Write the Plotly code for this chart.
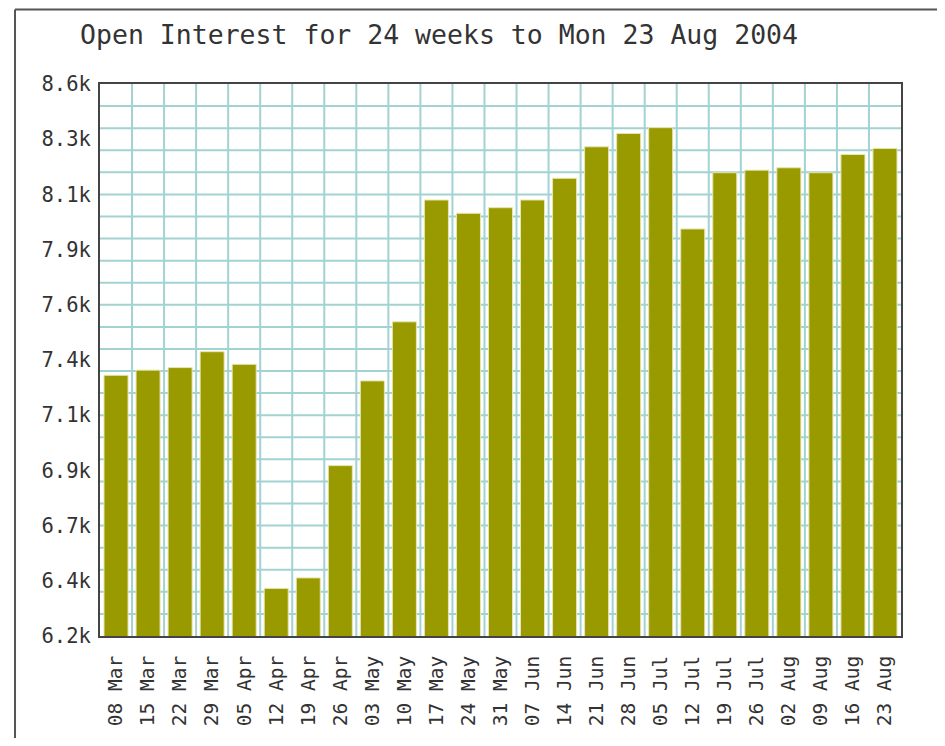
import plotly.graph_objects as go

title_text = "Open Interest for 24 weeks to Mon 23 Aug 2004"

week_labels = [
    "08 Mar", "15 Mar", "22 Mar", "29 Mar",
    "05 Apr", "12 Apr", "19 Apr", "26 Apr",
    "03 May", "10 May", "17 May", "24 May", "31 May",
    "07 Jun", "14 Jun", "21 Jun", "28 Jun",
    "05 Jul", "12 Jul", "19 Jul", "26 Jul",
    "02 Aug", "09 Aug", "16 Aug", "23 Aug",
]

open_interest = [
    7317, 7339, 7350, 7418,
    7364, 6404, 6449, 6930,
    7293, 7546, 8068, 8011, 8035,
    8068, 8161, 8296, 8353,
    8378, 7944, 8185, 8196,
    8206, 8185, 8263, 8289,
]

y_tick_labels = ["6.2k", "6.4k", "6.7k", "6.9k", "7.1k", "7.4k",
                 "7.6k", "7.9k", "8.1k", "8.3k", "8.6k"]

y_min, y_max = 6200, 8565
n_lab = len(y_tick_labels) - 1
y_tick_vals = [y_min + k * (y_max - y_min) / n_lab for k in range(n_lab + 1)]

FONT = "DejaVu Sans Mono"
GRID = "#a2d2d2"

fig = go.Figure()
fig.add_trace(go.Bar(
    x=week_labels,
    y=open_interest,
    marker=dict(color="#999900", line=dict(color="#e6e6b0", width=1)),
    hoverinfo="x+y",
))

shapes = []
n_cells = len(week_labels)
for i in range(1, n_cells):
    shapes.append(dict(type="line", xref="x domain", yref="y domain",
                       x0=i / n_cells, x1=i / n_cells, y0=0, y1=1,
                       line=dict(color=GRID, width=2), layer="below"))
for i in range(1, 25):
    shapes.append(dict(type="line", xref="x domain", yref="y domain",
                       x0=0, x1=1, y0=i / 25, y1=i / 25,
                       line=dict(color=GRID, width=2), layer="below"))

# outer page frame (cropped 3D border)
fx_left, fx_right, fy_top = -0.1061, 1.0462, 1.135
shapes.append(dict(type="line", xref="paper", yref="paper",
                   x0=fx_left, x1=fx_left, y0=-0.3, y1=fy_top,
                   line=dict(color="#555555", width=2), layer="above"))
shapes.append(dict(type="line", xref="paper", yref="paper",
                   x0=fx_left, x1=fx_right, y0=fy_top, y1=fy_top,
                   line=dict(color="#555555", width=2), layer="above"))
shapes.append(dict(type="line", xref="paper", yref="paper",
                   x0=fx_right, x1=fx_right, y0=-0.3, y1=fy_top,
                   line=dict(color="#cccccc", width=2), layer="above"))

fig.update_layout(
    width=929, height=730,
    margin=dict(l=92, r=36, t=76, b=100),
    paper_bgcolor="white",
    plot_bgcolor="white",
    bargap=0.25,
    showlegend=False,
    shapes=shapes,
    title=dict(text=title_text, x=0.464, xanchor="center",
               y=0.963, yanchor="middle", xref="container", yref="container",
               font=dict(family=FONT, size=26.5, color="#333333")),
    xaxis=dict(
        type="category",
        range=[-0.5, n_cells - 0.5],
        tickangle=-90,
        showgrid=False,
        ticks="",
        ticklabelstandoff=10,
        tickfont=dict(family=FONT, size=19.5, color="#333333"),
        showline=True, mirror=True, linecolor="#444444", linewidth=2,
        zeroline=False,
    ),
    yaxis=dict(
        range=[y_min, y_max],
        tickmode="array",
        tickvals=y_tick_vals,
        ticktext=y_tick_labels,
        showgrid=False,
        ticks="",
        ticklabelstandoff=3,
        tickfont=dict(family=FONT, size=20.5, color="#333333"),
        showline=True, mirror=True, linecolor="#444444", linewidth=2,
        zeroline=False,
    ),
)

fig.write_html("out.html")
